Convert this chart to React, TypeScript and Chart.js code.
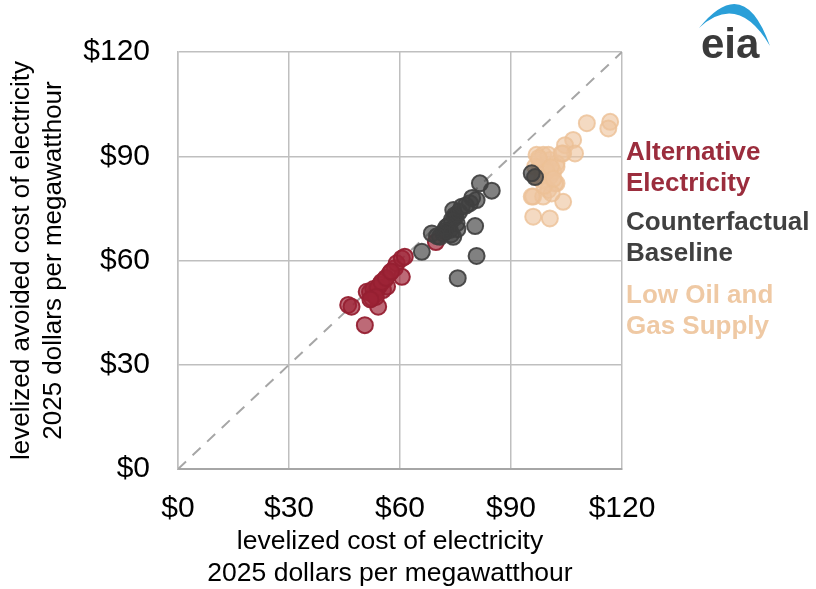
import React, { useEffect, useRef } from 'react';
import { Chart, registerables } from 'chart.js';

Chart.register(...registerables);

const FONT = '"Liberation Sans", Arial, Helvetica, sans-serif';

// Axis ticks
const tickValues = [0, 30, 60, 90, 120];
const tickLabels = ['$0', '$30', '$60', '$90', '$120'];

const xTitle = ['levelized cost of electricity', '2025 dollars per megawatthour'];
const yTitle = ['levelized avoided cost of electricity', '2025 dollars per megawatthour'];

// Series names and side label lines
const seriesNames = ['Alternative Electricity', 'Counterfactual Baseline', 'Low Oil and Gas Supply'];
const seriesLabelLines = [
  ['Alternative', 'Electricity'],
  ['Counterfactual', 'Baseline'],
  ['Low Oil and', 'Gas Supply'],
];

// Alternative Electricity
const altX = [46.0, 46.9, 50.5, 54.1, 51.0, 52.4, 53.5, 54.6, 55.9, 57.3, 58.6, 51.9, 55.4, 59.1, 60.5, 60.5, 61.3, 69.7, 53.0, 56.5, 52.8, 54.0, 55.0, 56.2, 57.6, 53.5, 52.0];
const altY = [47.2, 46.7, 41.4, 46.7, 51.0, 49.2, 51.5, 53.0, 54.4, 56.4, 57.8, 50.9, 51.5, 59.2, 55.3, 60.6, 61.1, 65.3, 50.0, 52.5, 51.8, 52.2, 53.8, 55.0, 56.8, 49.5, 48.8];

// Counterfactual Baseline
const baseX = [81.6, 84.8, 80.7, 78.9, 76.7, 74.4, 74.0, 75.3, 73.5, 74.4, 71.7, 68.6, 80.3, 65.9, 80.7, 75.6, 95.6, 96.5, 70.8, 72.5, 75.0, 73.0, 74.8, 76.0, 77.8, 79.5, 72.0, 70.0, 73.8, 75.5];
const baseY = [82.2, 80.1, 77.4, 76.5, 75.5, 74.5, 71.7, 70.7, 68.8, 66.8, 67.8, 67.8, 69.9, 62.5, 61.3, 54.9, 85.1, 84.0, 66.8, 69.5, 72.5, 70.0, 73.0, 74.0, 75.8, 78.0, 68.5, 67.0, 67.5, 69.0];

// Low Oil and Gas Supply
const lowX = [110.5, 116.8, 116.3, 106.8, 104.6, 107.3, 104.1, 96.9, 98.7, 100.5, 102.3, 102.3, 100.5, 96.0, 98.7, 104.1, 96.0, 100.5, 99.6, 97.8, 101.4, 98.3, 100.1, 97.6, 100.1, 102.3, 103.7, 101.9, 95.6, 101.0, 96.5, 99.6, 97.5, 100.8, 99.0, 101.5, 97.0];
const lowY = [99.5, 99.9, 98.0, 94.7, 93.2, 90.8, 90.8, 90.4, 90.4, 88.9, 88.0, 82.2, 84.1, 78.4, 78.4, 76.9, 72.6, 72.1, 86.0, 87.0, 85.6, 83.2, 80.3, 88.9, 90.4, 87.0, 90.8, 82.2, 78.4, 79.3, 87.0, 85.6, 89.5, 86.8, 81.5, 83.5, 84.0];

// Diagonal reference line
const diagX = [0, 120];
const diagY = [0, 120];

const textColors = ['#9b2d3d', '#404040', '#efc9a4'];

const pts = (xs: number[], ys: number[]) => xs.map((x, i) => ({ x, y: ys[i] }));

const sidePlugin = {
  id: 'sideLabels',
  afterDraw(chart: any) {
    const ctx = chart.ctx as CanvasRenderingContext2D;
    const { left, right, top, bottom } = chart.chartArea;
    ctx.save();
    // x-axis title (slightly left of the plot centre, as in the original)
    ctx.fillStyle = '#000';
    ctx.font = `26.5px ${FONT}`;
    ctx.textAlign = 'center';
    ctx.textBaseline = 'middle';
    const cx = (left + right) / 2 - 10;
    xTitle.forEach((line, j) => ctx.fillText(line, cx, bottom + 73 + j * 32));

    ctx.font = `bold 26px ${FONT}`;
    ctx.textAlign = 'left';
    const starts = [101, 171, 244];
    seriesLabelLines.forEach((lines, i) => {
      ctx.fillStyle = textColors[i];
      lines.forEach((line, j) => {
        ctx.fillText(line, right + 4, top + starts[i] + j * 31);
      });
    });
    // eia logo
    ctx.fillStyle = '#2a9fd8';
    ctx.beginPath();
    ctx.moveTo(699, 28);
    ctx.quadraticCurveTo(744, -28, 770, 46);
    ctx.quadraticCurveTo(738, -8, 699, 28);
    ctx.closePath();
    ctx.fill();
    ctx.fillStyle = '#3a3a3a';
    ctx.font = `bold 42px ${FONT}`;
    ctx.textBaseline = 'alphabetic';
    ctx.fillText('eia', 701, 58);
    ctx.restore();
  },
};

export default function App() {
  const ref = useRef<HTMLCanvasElement | null>(null);
  useEffect(() => {
    if (!ref.current) return;
    const chart = new Chart(ref.current, {
      type: 'scatter',
      data: {
        datasets: [
          {
            type: 'line',
            label: 'diagonal',
            data: pts(diagX, diagY),
            borderColor: '#a6a6a6',
            borderWidth: 2,
            borderDash: [11, 9],
            pointRadius: 0,
            fill: false,
            order: 10,
          } as any,
          {
            label: seriesNames[0],
            data: pts(altX, altY),
            backgroundColor: 'rgba(158,36,54,0.68)',
            borderColor: 'rgba(150,32,50,0.95)',
            borderWidth: 2,
            pointRadius: 8,
            order: 3,
          },
          {
            label: seriesNames[2],
            data: pts(lowX, lowY),
            backgroundColor: 'rgba(238,196,156,0.62)',
            borderColor: 'rgba(236,192,150,0.8)',
            borderWidth: 2,
            pointRadius: 8,
            order: 2,
          },
          {
            label: seriesNames[1],
            data: pts(baseX, baseY),
            backgroundColor: 'rgba(64,64,64,0.66)',
            borderColor: 'rgba(64,64,64,0.92)',
            borderWidth: 2,
            pointRadius: 8,
            order: 1,
          },
        ],
      },
      options: {
        responsive: false,
        animation: false,
        layout: { padding: { left: 0, right: 194, top: 52, bottom: 0 } },
        plugins: { legend: { display: false }, tooltip: { enabled: false } },
        scales: {
          x: {
            type: 'linear',
            min: 0,
            max: 120,
            afterBuildTicks: (axis: any) => {
              axis.ticks = tickValues.map((v) => ({ value: v }));
            },
            afterFit: (axis: any) => {
              axis.height = 120;
            },
            ticks: {
              padding: 22,
              color: '#000',
              font: { family: FONT, size: 30 },
              callback: (v: any) => tickLabels[tickValues.indexOf(Number(v))],
            },
            grid: { color: '#bfbfbf', lineWidth: 1.5, drawTicks: false },
            border: { color: '#a6a6a6', width: 2 },
            title: { display: false },
          },
          y: {
            type: 'linear',
            min: 0,
            max: 120,
            afterBuildTicks: (axis: any) => {
              axis.ticks = tickValues.map((v) => ({ value: v }));
            },
            afterFit: (axis: any) => {
              axis.width = 178;
            },
            ticks: {
              padding: 28,
              color: '#000',
              font: { family: FONT, size: 30 },
              callback: (v: any) => tickLabels[tickValues.indexOf(Number(v))],
            },
            grid: { color: '#bfbfbf', lineWidth: 1.5, drawTicks: false },
            border: { color: '#bfbfbf', width: 1.5 },
            title: {
              display: true,
              text: yTitle,
              color: '#000',
              font: { family: FONT, size: 26, lineHeight: 1.23 },
              padding: { top: 6, bottom: 0 },
            },
          },
        },
      },
      plugins: [sidePlugin],
    });
    return () => chart.destroy();
  }, []);
  return (
    <div style={{ position: 'absolute', left: 0, top: 0, width: 816, height: 589, background: '#fff' }}>
      <canvas ref={ref} width={816} height={589} style={{ display: 'block' }} />
    </div>
  );
}
